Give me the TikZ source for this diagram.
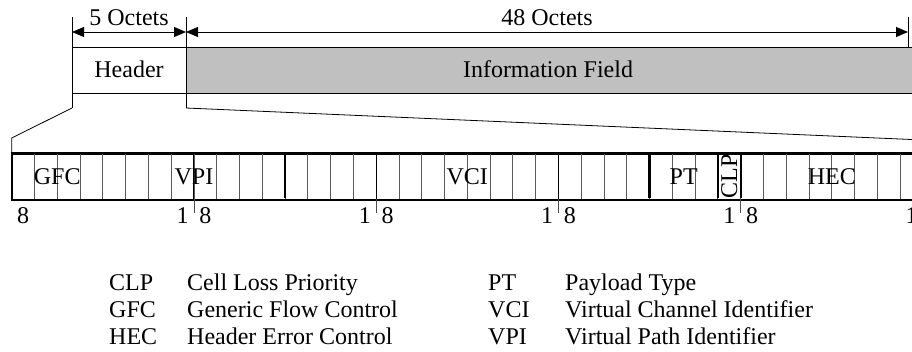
\documentclass[tikz,border=0pt]{standalone}
\usepackage{fontspec}
\setmainfont{Liberation Serif}
\usetikzlibrary{arrows.meta}
\begin{document}
\begin{tikzpicture}[x=1pt,y=-1pt,
  every node/.style={font=\fontsize{24}{28}\selectfont, inner sep=0pt},
  box/.style={draw, line width=1.3pt, anchor=north west, minimum height=46pt},
  dimline/.style={line width=0.8pt, {Triangle[length=12pt,width=10pt]}-{Triangle[length=12pt,width=10pt]}},
  extline/.style={line width=0.8pt},
  bitline/.style={line width=0.8pt, black!65},
  octline/.style={line width=0.9pt, black},
  fieldline/.style={line width=2.2pt, black},
  tick/.style={line width=0.8pt, black!70},
  lbl/.style={anchor=base},
  legend/.style={anchor=base west}]
\useasboundingbox (0,0) rectangle (912,351);
\clip (0,0) rectangle (912,351);

% bit geometry of the expanded header
\def\bx{11.7}
\def\bw{22.78}

% cell overview
\node[box, minimum width=114pt] (hdr) at (72,47) {};
\node[lbl] (hdrtxt) at (129,77.5) {Header};
\node[box, fill={rgb,255:red,192;green,192;blue,192}, minimum width=727pt] (info) at (186,47) {};
\node[lbl] (infotxt) at (548,77.5) {Information Field};

% dimension lines
\coordinate (e1t) at (72,17);
\coordinate (e2t) at (186,17);
\coordinate (e3t) at (908,17);
\coordinate (e3b) at (908,47);
\coordinate (e1b) at (72,108);
\coordinate (e2b) at (186,108);
\coordinate (d1) at (72,32);
\coordinate (d2) at (186,32);
\coordinate (d3) at (908,32);
\draw[extline] (e1t) -- (e1b);
\draw[extline] (e2t) -- (e2b);
\draw[extline] (e3t) -- (e3b);
\draw[dimline] (d1) -- (d2);
\draw[dimline] (d2) -- (d3);
\node[lbl] (oct5) at (129,25.5) {5 Octets};
\node[lbl] (oct48) at (547,25.5) {48 Octets};

% header bits
\node[box, line width=1.5pt, minimum width=911pt] (bits) at (\bx,153) {};

% funnel from header to its bits
\coordinate (fl) at (\bx,138);
\coordinate (fr) at (923,140);
\draw[extline] (e1b) -- (fl) -- (bits.north west);
\draw[extline] (e2b) -- (fr) -- (bits.north east);

% bit separators
\foreach \i in {1,...,39}{
  \draw[bitline] ({\bx+\i*\bw},153) -- ({\bx+\i*\bw},199);
}
\foreach \i in {8,16,24}{
  \draw[octline] ({\bx+\i*\bw},153) -- ({\bx+\i*\bw},199);
}
\foreach \i in {12,28,31,32}{
  \draw[fieldline] ({\bx+\i*\bw},153.7) -- ({\bx+\i*\bw},198.3);
}
\draw[line width=1.5pt] (bits.north west) rectangle (bits.south east);

% octet ticks and bit numbers
\foreach \i in {8,16,24,32,40}{
  \draw[tick] ({\bx+\i*\bw},199) -- ({\bx+\i*\bw},213);
}
\foreach \o in {0,8,16,24,32}{
  \node[lbl] (n8-\o) at ({\bx+(\o+0.5)*\bw},223) {8};
  \node[lbl] (n1-\o) at ({\bx+(\o+7.5)*\bw},223) {1};
}

% field names
\node[lbl] (gfc) at ({\bx+2*\bw},184) {GFC};
\node[lbl] (vpi) at ({\bx+8*\bw},184) {VPI};
\node[lbl] (vci) at ({\bx+20*\bw},184) {VCI};
\node[lbl] (pt)  at ({\bx+29.5*\bw},184) {PT};
\node[rotate=90] (clp) at ({\bx+31.5*\bw},176) {CLP};
\node[lbl] (hec) at ({\bx+36*\bw},184) {HEC};

% legend
\node[legend] (l1a) at (109,290) {CLP};
\node[legend] (l1b) at (187,290) {Cell Loss Priority};
\node[legend] (l2a) at (109,317) {GFC};
\node[legend] (l2b) at (187,317) {Generic Flow Control};
\node[legend] (l3a) at (109,344) {HEC};
\node[legend] (l3b) at (187,344) {Header Error Control};
\node[legend] (l4a) at (488,290) {PT};
\node[legend] (l4b) at (565,290) {Payload Type};
\node[legend] (l5a) at (488,317) {VCI};
\node[legend] (l5b) at (565,317) {Virtual Channel Identifier};
\node[legend] (l6a) at (488,344) {VPI};
\node[legend] (l6b) at (565,344) {Virtual Path Identifier};
\end{tikzpicture}
\end{document}
